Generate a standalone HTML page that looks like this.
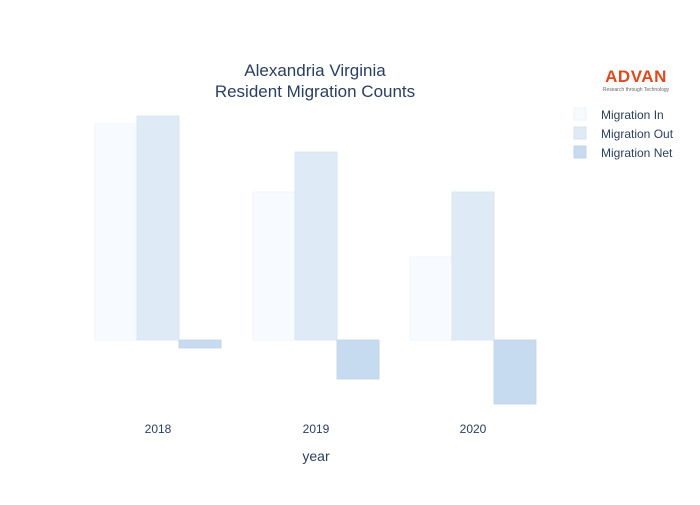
<!DOCTYPE html>
<html><head><meta charset="utf-8"><style>body{margin:0;background:#fff}</style></head><body>
<svg width="700" height="500" xmlns="http://www.w3.org/2000/svg" font-family="'Liberation Sans', sans-serif">
<rect width="700" height="500" fill="#fff"/>
<text x="315" y="76" text-anchor="middle" font-size="17" fill="#2a3f5f">Alexandria Virginia</text>
<text x="315" y="97" text-anchor="middle" font-size="17" fill="#2a3f5f">Resident Migration Counts</text>
<g stroke-width="0.8">
<rect x="95" y="124" width="42" height="216" fill="#f7fbff" stroke="#eef3fa"/>
<rect x="137" y="116" width="42" height="224" fill="#deebf7" stroke="#d3e2f2"/>
<rect x="179" y="340" width="42" height="8" fill="#c6dbef" stroke="#bcd3ea"/>
<rect x="253" y="192" width="42" height="148" fill="#f7fbff" stroke="#eef3fa"/>
<rect x="295" y="152" width="42" height="188" fill="#deebf7" stroke="#d3e2f2"/>
<rect x="337" y="340" width="42" height="39" fill="#c6dbef" stroke="#bcd3ea"/>
<rect x="410" y="257" width="42" height="83" fill="#f7fbff" stroke="#eef3fa"/>
<rect x="452" y="192" width="42" height="148" fill="#deebf7" stroke="#d3e2f2"/>
<rect x="494" y="340" width="42" height="64" fill="#c6dbef" stroke="#bcd3ea"/>
</g>
<g font-size="12" fill="#2a3f5f" text-anchor="middle">
<text x="158" y="433">2018</text><text x="316" y="433">2019</text><text x="473" y="433">2020</text>
</g>
<text x="316" y="461" text-anchor="middle" font-size="14" fill="#2a3f5f">year</text>
<text x="636" y="82" text-anchor="middle" font-size="17" font-weight="bold" fill="#e0491b" letter-spacing="0.5">ADVAN</text>
<text x="636" y="91" text-anchor="middle" font-size="5" fill="#666">Research through Technology</text>
<g font-size="12" fill="#2a3f5f">
<rect x="574" y="108" width="12" height="12" fill="#f7fbff" stroke="#eef3fa"/>
<text x="601" y="119">Migration In</text>
<rect x="574" y="127" width="12" height="12" fill="#deebf7" stroke="#d3e2f2"/>
<text x="601" y="138">Migration Out</text>
<rect x="574" y="146" width="12" height="12" fill="#c6dbef" stroke="#bcd3ea"/>
<text x="601" y="157">Migration Net</text>
</g>
</svg>
</body></html>
